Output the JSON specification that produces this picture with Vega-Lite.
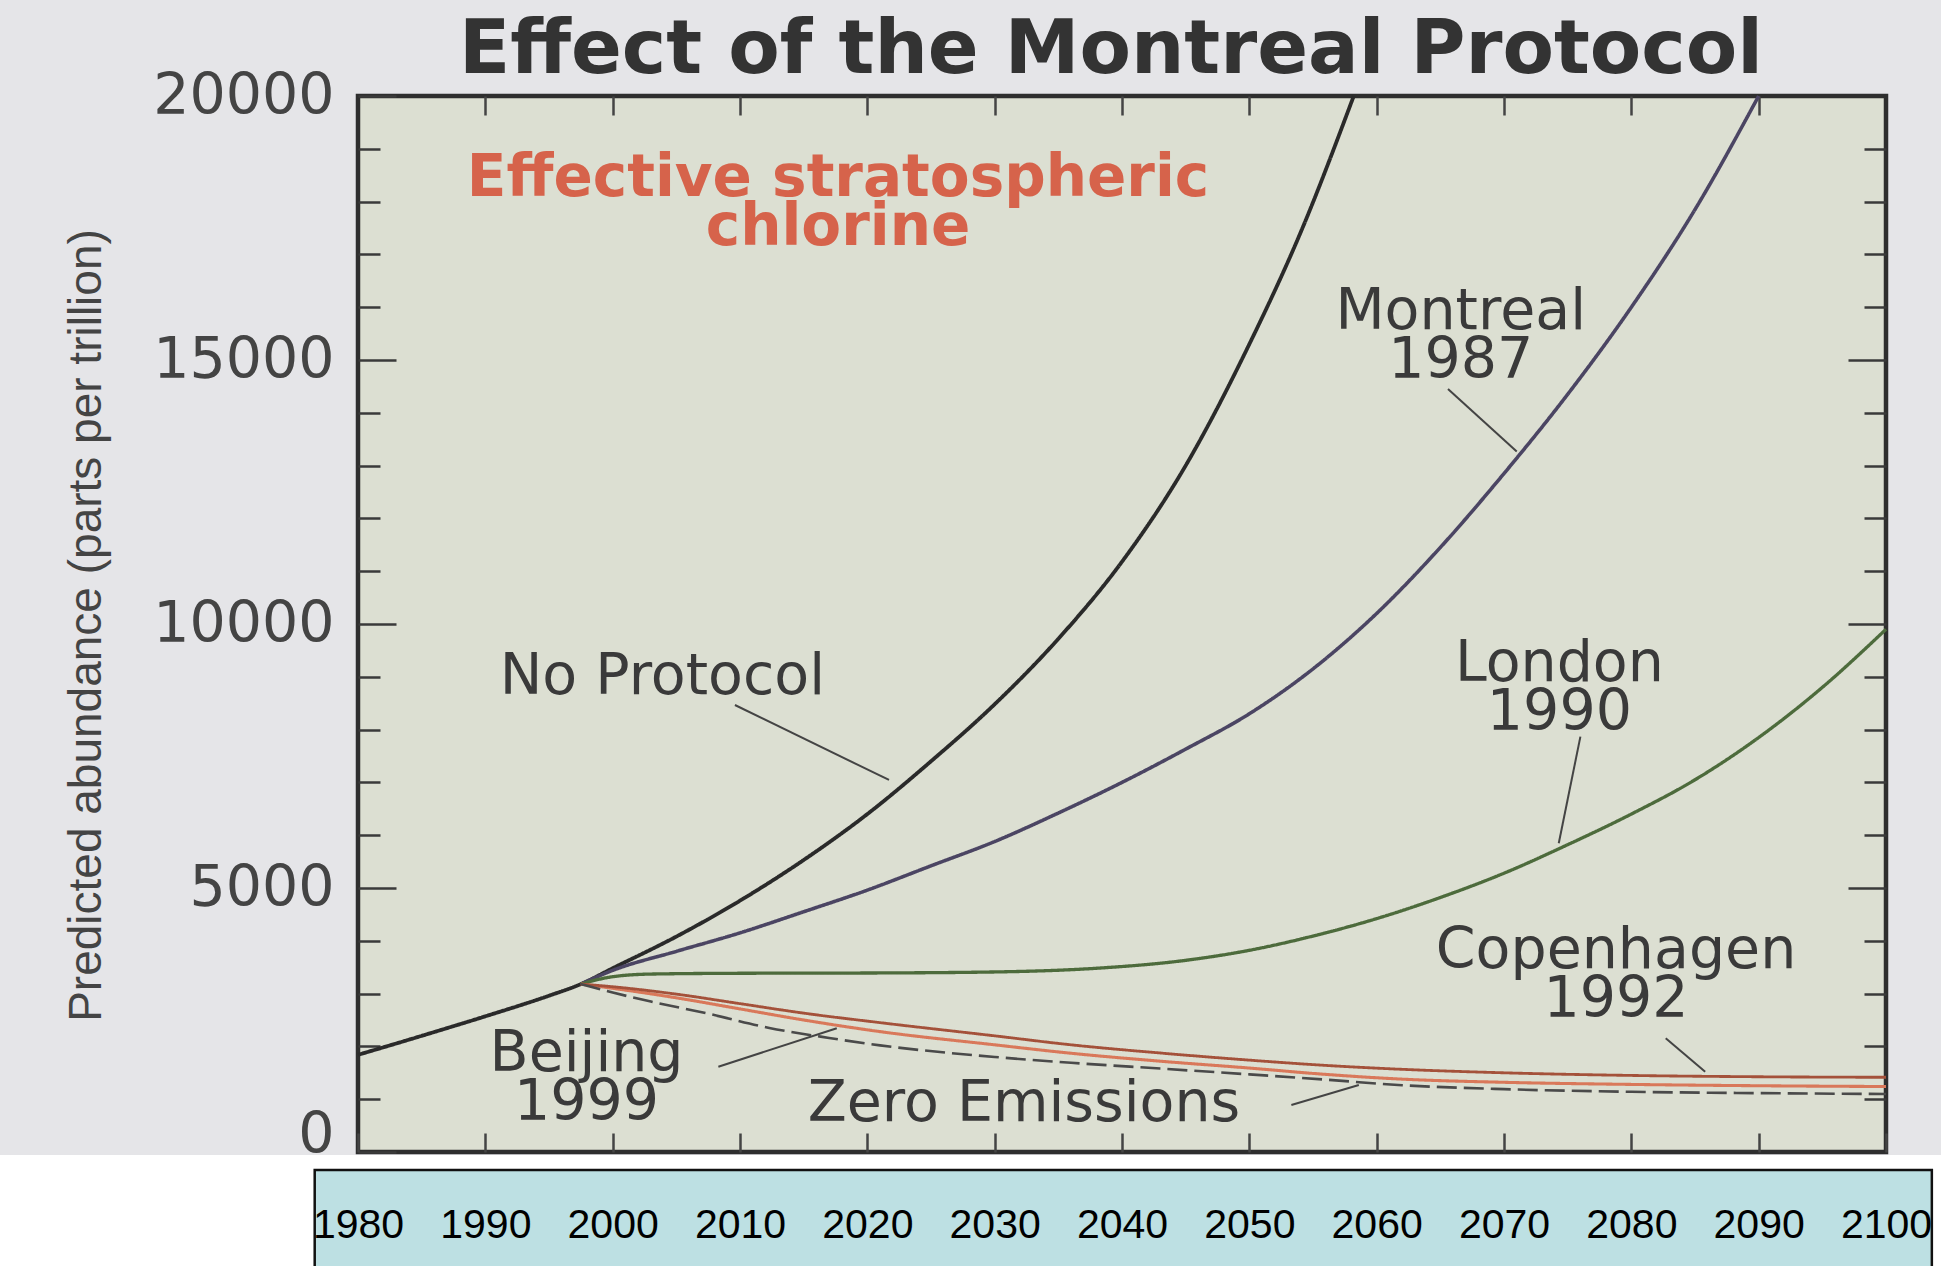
{
  "$schema": "https://vega.github.io/schema/vega-lite/v6.json",
  "width": 1528,
  "height": 1056,
  "autosize": {"type": "none"},
  "padding": {"left": 358, "top": 96, "right": 55, "bottom": 114},
  "background": "#E5E5E8",
  "title": {"text": "Effect of the Montreal Protocol", "font": "DejaVu Sans", "fontSize": 75, "fontWeight": "bold", "color": "#333333", "anchor": "middle", "frame": "group", "dx": -11, "offset": -22},
  "config": {"view": {"fill": "#DCDFD2", "stroke": "#2E2E2E", "strokeWidth": 4.5}},
  "datasets": {
    "curves": [
      {"series": "No Protocol", "year": 1980, "value": 1840},
      {"series": "No Protocol", "year": 1985, "value": 2200},
      {"series": "No Protocol", "year": 1990, "value": 2570},
      {"series": "No Protocol", "year": 1995, "value": 2960},
      {"series": "No Protocol", "year": 1997.5, "value": 3180},
      {"series": "No Protocol", "year": 2000, "value": 3480},
      {"series": "No Protocol", "year": 2005, "value": 4080},
      {"series": "No Protocol", "year": 2010, "value": 4760},
      {"series": "No Protocol", "year": 2015, "value": 5530},
      {"series": "No Protocol", "year": 2020, "value": 6400},
      {"series": "No Protocol", "year": 2025, "value": 7400},
      {"series": "No Protocol", "year": 2030, "value": 8480},
      {"series": "No Protocol", "year": 2035, "value": 9720},
      {"series": "No Protocol", "year": 2040, "value": 11180},
      {"series": "No Protocol", "year": 2045, "value": 13000},
      {"series": "No Protocol", "year": 2050, "value": 15300},
      {"series": "No Protocol", "year": 2054, "value": 17400},
      {"series": "No Protocol", "year": 2058.2, "value": 20000},
      {"series": "Montreal 1987", "year": 1997.5, "value": 3180},
      {"series": "Montreal 1987", "year": 2000, "value": 3440},
      {"series": "Montreal 1987", "year": 2005, "value": 3800},
      {"series": "Montreal 1987", "year": 2010, "value": 4150},
      {"series": "Montreal 1987", "year": 2015, "value": 4550},
      {"series": "Montreal 1987", "year": 2020, "value": 4960},
      {"series": "Montreal 1987", "year": 2025, "value": 5420},
      {"series": "Montreal 1987", "year": 2030, "value": 5880},
      {"series": "Montreal 1987", "year": 2035, "value": 6420},
      {"series": "Montreal 1987", "year": 2040, "value": 7000},
      {"series": "Montreal 1987", "year": 2045, "value": 7630},
      {"series": "Montreal 1987", "year": 2050, "value": 8300},
      {"series": "Montreal 1987", "year": 2055, "value": 9150},
      {"series": "Montreal 1987", "year": 2060, "value": 10200},
      {"series": "Montreal 1987", "year": 2065, "value": 11450},
      {"series": "Montreal 1987", "year": 2070, "value": 12850},
      {"series": "Montreal 1987", "year": 2075, "value": 14350},
      {"series": "Montreal 1987", "year": 2080, "value": 16000},
      {"series": "Montreal 1987", "year": 2085, "value": 17850},
      {"series": "Montreal 1987", "year": 2090, "value": 20000},
      {"series": "London 1990", "year": 1997.5, "value": 3180},
      {"series": "London 1990", "year": 2000, "value": 3320},
      {"series": "London 1990", "year": 2003, "value": 3370},
      {"series": "London 1990", "year": 2010, "value": 3385},
      {"series": "London 1990", "year": 2020, "value": 3390},
      {"series": "London 1990", "year": 2030, "value": 3410},
      {"series": "London 1990", "year": 2038, "value": 3480},
      {"series": "London 1990", "year": 2045, "value": 3630},
      {"series": "London 1990", "year": 2050, "value": 3820},
      {"series": "London 1990", "year": 2055, "value": 4090},
      {"series": "London 1990", "year": 2060, "value": 4420},
      {"series": "London 1990", "year": 2065, "value": 4820},
      {"series": "London 1990", "year": 2070, "value": 5280},
      {"series": "London 1990", "year": 2075, "value": 5820},
      {"series": "London 1990", "year": 2080, "value": 6400},
      {"series": "London 1990", "year": 2085, "value": 7050},
      {"series": "London 1990", "year": 2090, "value": 7850},
      {"series": "London 1990", "year": 2095, "value": 8800},
      {"series": "London 1990", "year": 2100, "value": 9900},
      {"series": "Beijing 1999", "year": 1997.5, "value": 3180},
      {"series": "Beijing 1999", "year": 2000, "value": 3100},
      {"series": "Beijing 1999", "year": 2005, "value": 2920},
      {"series": "Beijing 1999", "year": 2010, "value": 2710},
      {"series": "Beijing 1999", "year": 2015, "value": 2500},
      {"series": "Beijing 1999", "year": 2021, "value": 2280},
      {"series": "Beijing 1999", "year": 2030, "value": 2030},
      {"series": "Beijing 1999", "year": 2036, "value": 1870},
      {"series": "Beijing 1999", "year": 2043, "value": 1720},
      {"series": "Beijing 1999", "year": 2050, "value": 1590},
      {"series": "Beijing 1999", "year": 2056, "value": 1470},
      {"series": "Beijing 1999", "year": 2062, "value": 1380},
      {"series": "Beijing 1999", "year": 2070, "value": 1320},
      {"series": "Beijing 1999", "year": 2080, "value": 1280},
      {"series": "Beijing 1999", "year": 2090, "value": 1255},
      {"series": "Beijing 1999", "year": 2100, "value": 1240},
      {"series": "Copenhagen 1992", "year": 1997.5, "value": 3180},
      {"series": "Copenhagen 1992", "year": 2000, "value": 3130},
      {"series": "Copenhagen 1992", "year": 2005, "value": 2990},
      {"series": "Copenhagen 1992", "year": 2010, "value": 2810},
      {"series": "Copenhagen 1992", "year": 2015, "value": 2630},
      {"series": "Copenhagen 1992", "year": 2021, "value": 2450},
      {"series": "Copenhagen 1992", "year": 2030, "value": 2200},
      {"series": "Copenhagen 1992", "year": 2036, "value": 2030},
      {"series": "Copenhagen 1992", "year": 2043, "value": 1875},
      {"series": "Copenhagen 1992", "year": 2050, "value": 1740},
      {"series": "Copenhagen 1992", "year": 2056, "value": 1640},
      {"series": "Copenhagen 1992", "year": 2062, "value": 1566},
      {"series": "Copenhagen 1992", "year": 2070, "value": 1500},
      {"series": "Copenhagen 1992", "year": 2080, "value": 1450},
      {"series": "Copenhagen 1992", "year": 2090, "value": 1425},
      {"series": "Copenhagen 1992", "year": 2100, "value": 1415},
      {"series": "Zero Emissions", "year": 1997.5, "value": 3180},
      {"series": "Zero Emissions", "year": 2000, "value": 3020},
      {"series": "Zero Emissions", "year": 2003, "value": 2850},
      {"series": "Zero Emissions", "year": 2007.5, "value": 2620},
      {"series": "Zero Emissions", "year": 2012.3, "value": 2350},
      {"series": "Zero Emissions", "year": 2017, "value": 2160},
      {"series": "Zero Emissions", "year": 2021, "value": 2020},
      {"series": "Zero Emissions", "year": 2030, "value": 1800},
      {"series": "Zero Emissions", "year": 2036, "value": 1690},
      {"series": "Zero Emissions", "year": 2043, "value": 1580},
      {"series": "Zero Emissions", "year": 2050, "value": 1470},
      {"series": "Zero Emissions", "year": 2056, "value": 1370},
      {"series": "Zero Emissions", "year": 2062, "value": 1265},
      {"series": "Zero Emissions", "year": 2070, "value": 1190},
      {"series": "Zero Emissions", "year": 2080, "value": 1140},
      {"series": "Zero Emissions", "year": 2090, "value": 1115},
      {"series": "Zero Emissions", "year": 2100, "value": 1098}
    ],
    "labels": [
      {"text": "No Protocol", "year": 2003.9, "value": 8990},
      {"text": "Montreal\n1987", "year": 2066.6, "value": 15900},
      {"text": "London\n1990", "year": 2074.35, "value": 9250},
      {"text": "Copenhagen\n1992", "year": 2078.8, "value": 3815},
      {"text": "Beijing\n1999", "year": 1997.95, "value": 1850},
      {"text": "Zero Emissions", "year": 2032.3, "value": 909}
    ],
    "heading": [
      {"text": "Effective stratospheric\nchlorine", "year": 2017.7, "value": 18420}
    ],
    "leaders": [
      {"label": "No Protocol", "year": 2009.6, "value": 8466, "year2": 2021.7, "value2": 7046},
      {"label": "Montreal 1987", "year": 2065.6, "value": 14451, "year2": 2071.0, "value2": 13269},
      {"label": "London 1990", "year": 2076.0, "value": 7866, "year2": 2074.3, "value2": 5847},
      {"label": "Copenhagen 1992", "year": 2082.7, "value": 2153, "year2": 2085.8, "value2": 1521},
      {"label": "Beijing 1999", "year": 2008.3, "value": 1616, "year2": 2017.6, "value2": 2343},
      {"label": "Zero Emissions", "year": 2053.3, "value": 890, "year2": 2058.6, "value2": 1269}
    ]
  },
  "layer": [
    {
      "data": {"values": [{}]},
      "mark": {"type": "rect", "fill": "#FFFFFF", "stroke": null},
      "encoding": {
        "x": {"datum": 1951, "type": "quantitative", "scale": {"domain": [1980, 2100], "nice": false, "zero": false}, "axis": null},
        "x2": {"datum": 2105},
        "y": {"datum": -57, "type": "quantitative", "scale": {"domain": [0, 20000], "nice": false}, "axis": null},
        "y2": {"datum": -2500}
      }
    },
    {
      "data": {"values": [{}]},
      "mark": {"type": "rect", "fill": "#BDE0E3", "stroke": "#111111", "strokeWidth": 2.5},
      "encoding": {
        "x": {"datum": 1976.6, "type": "quantitative", "scale": {"domain": [1980, 2100], "nice": false, "zero": false}, "axis": null},
        "x2": {"datum": 2103.6},
        "y": {"datum": -341, "type": "quantitative", "scale": {"domain": [0, 20000], "nice": false}, "axis": null},
        "y2": {"datum": -2400}
      }
    },
    {
      "data": {"name": "curves"},
      "mark": {"type": "line", "interpolate": "monotone"},
      "encoding": {
        "x": {
          "field": "year", "type": "quantitative",
          "scale": {"domain": [1980, 2100], "nice": false, "zero": false},
          "axis": {
            "orient": "bottom", "title": null, "domain": false, "grid": false,
            "values": [1980, 1990, 2000, 2010, 2020, 2030, 2040, 2050, 2060, 2070, 2080, 2090, 2100],
            "format": "d", "tickSize": -19, "tickColor": "#444444", "tickWidth": 2.5,
            "labelPadding": 92, "labelBaseline": "middle", "labelAlign": "center",
            "labelFont": "Liberation Sans Narrow, Liberation Sans", "labelFontSize": 41, "labelColor": "#000000",
            "labelFlush": false, "labelOverlap": false, "zindex": 2
          }
        },
        "y": {
          "field": "value", "type": "quantitative",
          "scale": {"domain": [0, 20000], "nice": false},
          "axis": {
            "orient": "left", "domain": false, "grid": false,
            "values": [0, 1000, 2000, 3000, 4000, 5000, 6000, 7000, 8000, 9000, 10000, 11000, 12000, 13000, 14000, 15000, 16000, 17000, 18000, 19000, 20000],
            "format": "d",
            "labelExpr": "datum.value % 5000 === 0 ? datum.label : ''",
            "labelBaseline": {"condition": {"test": "datum.value === 0", "value": "alphabetic"}, "value": "middle"},
            "tickSize": {"condition": {"test": "datum.value % 5000 === 0", "value": -38}, "value": -22},
            "tickColor": "#3A3A3A", "tickWidth": 2.5,
            "labelPadding": 62, "labelFont": "DejaVu Sans", "labelFontSize": 57, "labelColor": "#444444",
            "labelLimit": 0, "labelFlush": false, "labelOverlap": false,
            "title": "Predicted abundance (parts per trillion)",
            "titleFont": "Liberation Sans", "titleFontSize": 46, "titleFontWeight": "normal", "titleColor": "#444444",
            "titleX": -272, "titleY": 529, "titleBaseline": "middle", "titleAngle": 270
          }
        },
        "color": {
          "field": "series", "type": "nominal", "legend": null,
          "scale": {"domain": ["No Protocol", "Montreal 1987", "London 1990", "Beijing 1999", "Copenhagen 1992", "Zero Emissions"],
                    "range": ["#2A2A2A", "#4B4563", "#4D6B3C", "#D9785A", "#A4513A", "#4A4A4A"]}
        },
        "strokeWidth": {
          "field": "series", "type": "ordinal", "legend": null,
          "scale": {"domain": ["No Protocol", "Montreal 1987", "London 1990", "Beijing 1999", "Copenhagen 1992", "Zero Emissions"],
                    "range": [3.8, 2.6, 2.6, 6, 3, 5.5]}
        },
        "strokeDash": {
          "field": "series", "type": "nominal", "legend": null,
          "scale": {"domain": ["No Protocol", "Montreal 1987", "London 1990", "Beijing 1999", "Copenhagen 1992", "Zero Emissions"],
                    "range": [[1, 0], [1, 0], [1, 0], [1, 0], [1, 0], [20, 7]]}
        }
      }
    },
    {
      "data": {"name": "leaders"},
      "mark": {"type": "rule", "color": "#444444", "strokeWidth": 2},
      "encoding": {
        "x": {"field": "year", "type": "quantitative", "scale": {"domain": [1980, 2100], "nice": false, "zero": false}, "axis": null},
        "x2": {"field": "year2"},
        "y": {"field": "value", "type": "quantitative", "scale": {"domain": [0, 20000], "nice": false}, "axis": null},
        "y2": {"field": "value2"}
      }
    },
    {
      "data": {"name": "heading"},
      "mark": {"type": "text", "font": "DejaVu Sans", "fontWeight": "bold", "fontSize": 58, "lineBreak": "\n", "lineHeight": 49, "color": "#D6634B", "align": "center", "baseline": "middle"},
      "encoding": {
        "x": {"field": "year", "type": "quantitative", "scale": {"domain": [1980, 2100], "nice": false, "zero": false}, "axis": null},
        "y": {"field": "value", "type": "quantitative", "scale": {"domain": [0, 20000], "nice": false}, "axis": null},
        "text": {"field": "text"}
      }
    },
    {
      "data": {"name": "labels"},
      "mark": {"type": "text", "font": "DejaVu Sans", "fontSize": 57, "lineBreak": "\n", "lineHeight": 49, "color": "#3A3A3A", "align": "center", "baseline": "middle"},
      "encoding": {
        "x": {
          "field": "year", "type": "quantitative",
          "scale": {"domain": [1980, 2100], "nice": false, "zero": false},
          "axis": {
            "orient": "top", "title": null, "domain": false, "grid": false, "labels": false,
            "values": [1990, 2000, 2010, 2020, 2030, 2040, 2050, 2060, 2070, 2080, 2090],
            "tickSize": -19, "tickColor": "#444444", "tickWidth": 2.5
          }
        },
        "y": {
          "field": "value", "type": "quantitative",
          "scale": {"domain": [0, 20000], "nice": false},
          "axis": {
            "orient": "right", "title": null, "domain": false, "grid": false, "labels": false,
            "values": [1000, 2000, 3000, 4000, 5000, 6000, 7000, 8000, 9000, 10000, 11000, 12000, 13000, 14000, 15000, 16000, 17000, 18000, 19000],
            "tickSize": {"condition": {"test": "datum.value % 5000 === 0", "value": -38}, "value": -22},
            "tickColor": "#3A3A3A", "tickWidth": 2.5
          }
        },
        "text": {"field": "text"}
      }
    }
  ],
  "resolve": {"axis": {"x": "independent", "y": "independent"}}
}
